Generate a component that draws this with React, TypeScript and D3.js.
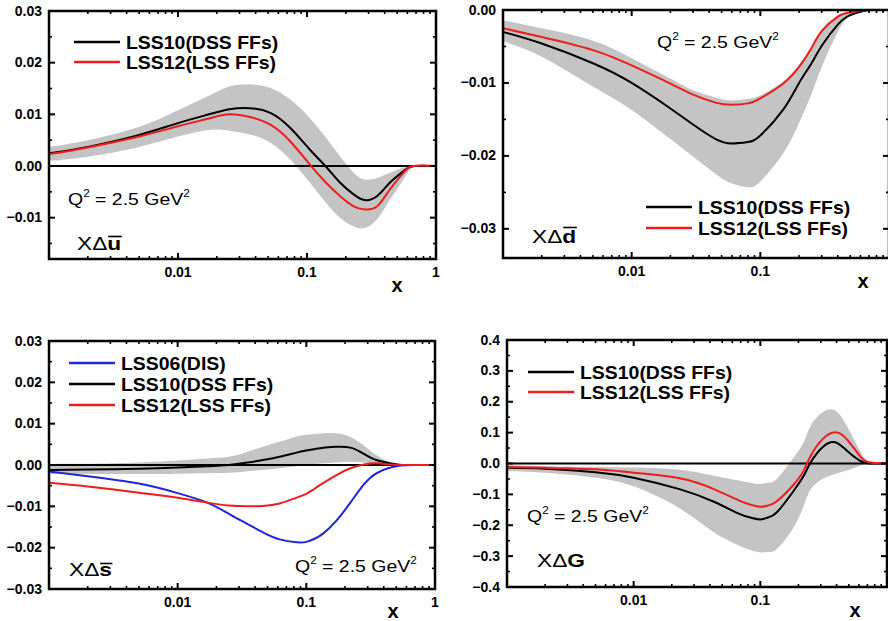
import React from 'react';
import * as d3 from 'd3';

const FONT = '"Liberation Sans", Arial, Helvetica, sans-serif';
const RED = '#ee1c1c';
const BLUE = '#1f24dd';
const BAND = '#c4c4c4';

// ---- x Δ u-bar
const uX = [0.001, 0.002, 0.005, 0.01, 0.018, 0.025, 0.036, 0.052, 0.074, 0.105, 0.14, 0.18, 0.23, 0.28, 0.35, 0.44, 0.56, 0.67, 1];
const uLSS10 = [0.00245, 0.0037, 0.006, 0.0083, 0.0101, 0.011, 0.0112, 0.0103, 0.0074, 0.0032, -0.0001, -0.0032, -0.0055, -0.0066, -0.0058, -0.0032, -0.001, 0, 0];
const uLSS12 = [0.0023, 0.0036, 0.0057, 0.0077, 0.0093, 0.01, 0.0095, 0.008, 0.0048, 0.0003, -0.0032, -0.0058, -0.0078, -0.0084, -0.0078, -0.0045, -0.0013, 0, 0];
const uUpper = [0.0037, 0.005, 0.0076, 0.0108, 0.0138, 0.0154, 0.0158, 0.0151, 0.0129, 0.0093, 0.0055, 0.0019, -0.0013, -0.0026, -0.0023, -0.0013, -0.0003, 0, 0];
const uLower = [0.001, 0.0018, 0.0037, 0.0057, 0.007, 0.0068, 0.0061, 0.0045, 0.0013, -0.0032, -0.0071, -0.01, -0.0117, -0.012, -0.0103, -0.0065, -0.0026, -0.0003, 0];

// ---- x Δ d-bar
const dX = [0.001, 0.002, 0.005, 0.01, 0.02, 0.03, 0.045, 0.06, 0.08, 0.1, 0.15, 0.2, 0.25, 0.3, 0.4, 0.5, 0.7, 1];
const dLSS10 = [-0.003, -0.0046, -0.0073, -0.01, -0.0135, -0.0157, -0.0177, -0.0183, -0.0181, -0.0172, -0.0137, -0.01, -0.0073, -0.0049, -0.002, -0.0007, 0, 0];
const dLSS12 = [-0.0025, -0.0037, -0.0055, -0.0076, -0.0101, -0.0116, -0.0127, -0.013, -0.0128, -0.0121, -0.0101, -0.0078, -0.0052, -0.0029, -0.0009, -0.0003, 0, 0];
const dUpper = [-0.0014, -0.0025, -0.0042, -0.0066, -0.0094, -0.011, -0.012, -0.0124, -0.0122, -0.0117, -0.0098, -0.0075, -0.005, -0.0027, -0.0008, -0.0002, 0, 0];
const dLower = [-0.0043, -0.0064, -0.0105, -0.0137, -0.0177, -0.0201, -0.0225, -0.0238, -0.0243, -0.0235, -0.0197, -0.0155, -0.0115, -0.0078, -0.003, -0.0008, 0, 0];

// ---- x Δ s-bar
const sX = [0.001, 0.002, 0.005, 0.01, 0.017, 0.025, 0.035, 0.046, 0.062, 0.084, 0.1, 0.115, 0.135, 0.17, 0.22, 0.28, 0.35, 0.45, 0.55, 0.7, 1];
const sLSS06 = [-0.0016, -0.0027, -0.0045, -0.0068, -0.0091, -0.0118, -0.0143, -0.0163, -0.018, -0.0187, -0.0186, -0.0179, -0.0166, -0.0136, -0.0091, -0.0047, -0.002, -0.0006, -0.0001, 0, 0];
const sLSS10 = [-0.0012, -0.0011, -0.0009, -0.0006, -0.0003, 0, 0.0006, 0.0012, 0.002, 0.003, 0.0035, 0.0038, 0.0042, 0.0044, 0.0042, 0.0027, 0.0012, 0.0004, 0, 0, 0];
const sLSS12 = [-0.0043, -0.0052, -0.0067, -0.0079, -0.0091, -0.0098, -0.01, -0.0099, -0.0093, -0.0079, -0.007, -0.0058, -0.0044, -0.0025, -0.0008, 0.0001, 0.0004, 0.0001, 0, 0, 0];
const sUpper = [0.0003, 0.0003, 0.0006, 0.0011, 0.0016, 0.002, 0.0032, 0.0044, 0.0056, 0.0069, 0.0073, 0.0075, 0.0077, 0.0077, 0.0068, 0.0047, 0.0024, 0.0006, 0, 0, 0];
const sLower = [-0.0022, -0.0022, -0.0022, -0.0021, -0.002, -0.0019, -0.0015, -0.0012, -0.0008, -0.0003, 0, 0.0002, 0.0004, 0.0006, 0.0008, 0.0006, 0.0002, 0, 0, 0, 0];

// ---- x Δ G
const gX = [0.001, 0.002, 0.005, 0.01, 0.023, 0.043, 0.069, 0.085, 0.1, 0.115, 0.135, 0.18, 0.22, 0.25, 0.31, 0.39, 0.48, 0.61, 0.73, 1];
const gLSS10 = [-0.014, -0.017, -0.028, -0.046, -0.083, -0.124, -0.164, -0.176, -0.181, -0.175, -0.158, -0.093, -0.04, 0.004, 0.053, 0.069, 0.042, 0.009, 0, 0];
const gLSS12 = [-0.011, -0.014, -0.019, -0.03, -0.048, -0.083, -0.121, -0.134, -0.14, -0.136, -0.122, -0.072, -0.023, 0.025, 0.079, 0.101, 0.079, 0.025, 0.003, 0];
const gUpper = [-0.005, -0.009, -0.011, -0.013, -0.02, -0.04, -0.056, -0.063, -0.066, -0.062, -0.05, 0.015, 0.069, 0.123, 0.166, 0.172, 0.123, 0.042, 0.007, 0];
const gLower = [-0.025, -0.03, -0.046, -0.074, -0.145, -0.223, -0.267, -0.281, -0.288, -0.287, -0.277, -0.212, -0.137, -0.083, -0.05, -0.034, -0.023, -0.008, 0, 0];

const xTickLabels = [0.01, 0.1, 1];
const legend2 = ['LSS10(DSS FFs)', 'LSS12(LSS FFs)'];
const legend3 = ['LSS06(DIS)', 'LSS10(DSS FFs)', 'LSS12(LSS FFs)'];

const curve = d3.curveNatural;

const Panel = (p) => {
  const { left, top, right, bottom, id } = p;
  const x = d3.scaleLog().domain([0.001, 1]).range([left, right]);
  const y = d3.scaleLinear().domain(p.yDomain).range([bottom, top]);
  const line = (vals) =>
    d3.line().x((d, i) => x(p.xs[i])).y((d) => y(d)).curve(curve)(vals);
  const area = d3
    .area()
    .x((d, i) => x(p.xs[i]))
    .y0((d, i) => y(p.lower[i]))
    .y1((d) => y(d))
    .curve(curve)(p.upper);

  const xMinor = [];
  for (let e = -3; e < 0; e++) for (let k = 2; k <= 9; k++) xMinor.push(k * Math.pow(10, e));
  const yMajor = p.yMajor;
  const yMinor = [];
  for (let i = 0; i < yMajor.length - 1; i++) yMinor.push((yMajor[i] + yMajor[i + 1]) / 2);
  if (p.yExtraMinor) yMinor.push(...p.yExtraMinor);

  // title "XΔ" + bold letter, horizontally stretched like the original figure
  const tfs = 17.5;
  const barX0 = tfs * (0.667 + 0.668) + 0.6;
  const barX1 = barX0 + tfs * (p.letter === 's' ? 0.54 : 0.6);

  return (
    <g fontFamily={FONT}>
      <defs>
        <clipPath id={id}>
          <rect x={left} y={top} width={right - left} height={bottom - top} />
        </clipPath>
      </defs>
      <g clipPath={`url(#${id})`}>
        <path d={area} fill={BAND} />
        <line x1={left} x2={right} y1={y(0)} y2={y(0)} stroke="#000" strokeWidth={2} />
        {p.lines.map((l, i) => (
          <path key={i} d={line(l.values)} fill="none" stroke={l.color} strokeWidth={2} />
        ))}
      </g>
      {[0.01, 0.1].map((t) => (
        <g key={'xm' + t}>
          <line x1={x(t)} x2={x(t)} y1={bottom} y2={bottom - 6} stroke="#000" strokeWidth={2} />
          <line x1={x(t)} x2={x(t)} y1={top} y2={top + 6} stroke="#000" strokeWidth={2} />
        </g>
      ))}
      {xMinor.map((t) => (
        <g key={'xn' + t}>
          <line x1={x(t)} x2={x(t)} y1={bottom} y2={bottom - 3} stroke="#000" strokeWidth={1.6} />
          <line x1={x(t)} x2={x(t)} y1={top} y2={top + 3} stroke="#000" strokeWidth={1.6} />
        </g>
      ))}
      {yMajor.map((t) => (
        <g key={'ym' + t}>
          <line x1={left} x2={left + 6} y1={y(t)} y2={y(t)} stroke="#000" strokeWidth={2} />
          <line x1={right} x2={right - 6} y1={y(t)} y2={y(t)} stroke="#000" strokeWidth={2} />
          <text x={left - 7} y={y(t) + 4.5} textAnchor="end" fontSize={14} fontWeight="bold">
            {p.yFmt(t)}
          </text>
        </g>
      ))}
      {yMinor.map((t) => (
        <g key={'yn' + t}>
          <line x1={left} x2={left + 3} y1={y(t)} y2={y(t)} stroke="#000" strokeWidth={1.6} />
          <line x1={right} x2={right - 3} y1={y(t)} y2={y(t)} stroke="#000" strokeWidth={1.6} />
        </g>
      ))}
      {xTickLabels
        .filter((t) => x(t) < 880)
        .map((t) => (
          <text key={'xl' + t} x={x(t)} y={bottom + 18} textAnchor="middle" fontSize={14} fontWeight="bold">
            {t}
          </text>
        ))}
      <rect x={left} y={top} width={right - left} height={bottom - top} fill="none" stroke="#000" strokeWidth={2.5} />
      <text x={p.xLabel[0]} y={p.xLabel[1]} textAnchor="middle" fontSize={20} fontWeight="bold">
        x
      </text>
      {p.legend.items.map((label, i) => (
        <g key={'lg' + i}>
          <line
            x1={p.legend.x}
            x2={p.legend.x + 46}
            y1={p.legend.y + i * p.legend.dy}
            y2={p.legend.y + i * p.legend.dy}
            stroke={p.lines[i].color}
            strokeWidth={2.4}
          />
          <text
            transform={`translate(${p.legend.x + 52},${p.legend.y + i * p.legend.dy + 6.5}) scale(1.08,1)`}
            fontSize={18}
            fontWeight="bold"
          >
            {label}
          </text>
        </g>
      ))}
      <text transform={`translate(${p.q2[0]},${p.q2[1]}) scale(1.18,1)`} fontSize={16.5}>
        Q<tspan fontSize={10} dy={-8}>2</tspan>
        <tspan dy={8}> = 2.5 GeV</tspan>
        <tspan fontSize={10} dy={-8}>2</tspan>
      </text>
      <g transform={`translate(${p.title[0]},${p.title[1]}) scale(1.3,1)`}>
        <text x={0} y={0} fontSize={tfs}>
          XΔ<tspan fontWeight="bold">{p.letter}</tspan>
        </text>
        {p.barY ? <line x1={barX0} x2={barX1} y1={-p.barY} y2={-p.barY} stroke="#000" strokeWidth={1.6} /> : null}
      </g>
    </g>
  );
};

const f2 = d3.format('.2f');
const f1 = d3.format('.1f');

export default function App() {
  return (
    <svg width={888} height={621} style={{ position: 'absolute', left: 0, top: 0, background: '#fff' }}>
      <Panel
        id="c1"
        left={49}
        top={11}
        right={436}
        bottom={259}
        yDomain={[-0.018, 0.03]}
        yMajor={[-0.01, 0, 0.01, 0.02, 0.03]}
        yExtraMinor={[-0.015]}
        yFmt={f2}
        xs={uX}
        upper={uUpper}
        lower={uLower}
        lines={[
          { values: uLSS10, color: '#000' },
          { values: uLSS12, color: RED },
        ]}
        legend={{ x: 74, y: 42, dy: 20, items: legend2 }}
        q2={[68, 205]}
        title={[77, 250]}
        letter="u"
        barY={13.5}
        xLabel={[397, 292]}
      />
      <Panel
        id="c2"
        left={503}
        top={10}
        right={889}
        bottom={258}
        yDomain={[-0.034, 0]}
        yMajor={[-0.03, -0.02, -0.01, 0]}
        yExtraMinor={[]}
        yFmt={f2}
        xs={dX}
        upper={dUpper}
        lower={dLower}
        lines={[
          { values: dLSS10, color: '#000' },
          { values: dLSS12, color: RED },
        ]}
        legend={{ x: 646, y: 207, dy: 21, items: legend2 }}
        q2={[657, 48]}
        title={[532, 243]}
        letter="d"
        barY={15.5}
        xLabel={[863, 288]}
      />
      <Panel
        id="c3"
        left={49}
        top={341}
        right={435}
        bottom={589}
        yDomain={[-0.03, 0.03]}
        yMajor={[-0.03, -0.02, -0.01, 0, 0.01, 0.02, 0.03]}
        yExtraMinor={[]}
        yFmt={f2}
        xs={sX}
        upper={sUpper}
        lower={sLower}
        lines={[
          { values: sLSS06, color: BLUE },
          { values: sLSS10, color: '#000' },
          { values: sLSS12, color: RED },
        ]}
        legend={{ x: 69, y: 363, dy: 21, items: legend3 }}
        q2={[295, 572]}
        title={[69, 576]}
        letter="s"
        barY={12.5}
        xLabel={[393, 618]}
      />
      <Panel
        id="c4"
        left={507}
        top={340}
        right={887}
        bottom={587}
        yDomain={[-0.4, 0.4]}
        yMajor={[-0.4, -0.3, -0.2, -0.1, 0, 0.1, 0.2, 0.3, 0.4]}
        yExtraMinor={[]}
        yFmt={f1}
        xs={gX}
        upper={gUpper}
        lower={gLower}
        lines={[
          { values: gLSS10, color: '#000' },
          { values: gLSS12, color: RED },
        ]}
        legend={{ x: 528, y: 372, dy: 20, items: legend2 }}
        q2={[527, 522]}
        title={[537, 567]}
        letter="G"
        barY={0}
        xLabel={[855, 617]}
      />
    </svg>
  );
}
